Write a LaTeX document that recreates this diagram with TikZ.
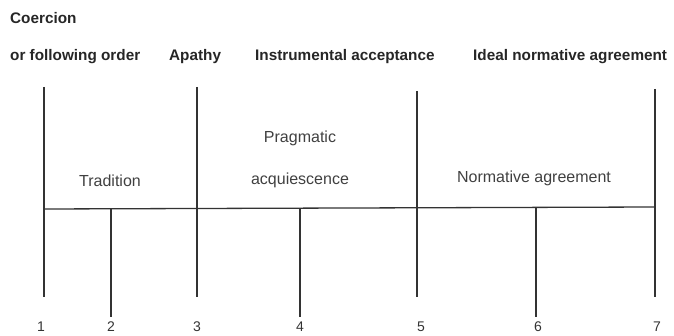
\documentclass[tikz,border=0pt]{standalone}
\usepackage{fontspec}
\setmainfont{Liberation Sans}
\begin{document}
\begin{tikzpicture}[x=1pt,y=-1pt,
  axis/.style={line width=1.3pt,draw=black!80},
  head/.style={font=\fontsize{15.3}{17}\selectfont\bfseries,text=black!85,inner sep=0pt,anchor=west},
  lab/.style={font=\fontsize{16}{18}\selectfont,text=black!75,inner sep=0pt},
  num/.style={font=\fontsize{14}{16}\selectfont,text=black!80,inner sep=0pt}]
\useasboundingbox (0,0) rectangle (674,336);
% headers
\node[head] (hc) at (10,18) {Coercion};
\node[head] (h1) at (10,57) {or following order};
\node[head] (h3) at (169,57) {Apathy};
\node[head] (h5) at (255,57) {Instrumental acceptance};
\node[head] (h7) at (473,57) {Ideal normative agreement};
% line coordinates
\coordinate (t1) at (44,87);  \coordinate (b1) at (44,297);
\coordinate (t3) at (197,87); \coordinate (b3) at (197,297);
\coordinate (t5) at (417,91); \coordinate (b5) at (417,297);
\coordinate (t7) at (655,89); \coordinate (b7) at (655,297);
\coordinate (m1) at (44,209); \coordinate (m7) at (655,207);
\coordinate (s2) at (111,209); \coordinate (e2) at (111,317);
\coordinate (s4) at (300,209); \coordinate (e4) at (300,317);
\coordinate (s6) at (536,208); \coordinate (e6) at (536,317);
\draw[axis] (t1) -- (b1);
\draw[axis] (t3) -- (b3);
\draw[axis] (t5) -- (b5);
\draw[axis] (t7) -- (b7);
\draw[axis] (m1) -- (m7);
\draw[axis] (s2) -- (e2);
\draw[axis] (s4) -- (e4);
\draw[axis] (s6) -- (e6);
% region labels
\node[lab] (tr) at (110,181) {Tradition};
\node[lab] (pr) at (300,138) {Pragmatic};
\node[lab] (ac) at (300,180) {acquiescence};
\node[lab] (na) at (534,178) {Normative agreement};
% numbers
\node[num] (n1) at (41,327) {1};
\node[num] (n2) at (111,327) {2};
\node[num] (n3) at (197,327) {3};
\node[num] (n4) at (300,327) {4};
\node[num] (n5) at (421,327) {5};
\node[num] (n6) at (538,327) {6};
\node[num] (n7) at (657,327) {7};
\end{tikzpicture}
\end{document}
